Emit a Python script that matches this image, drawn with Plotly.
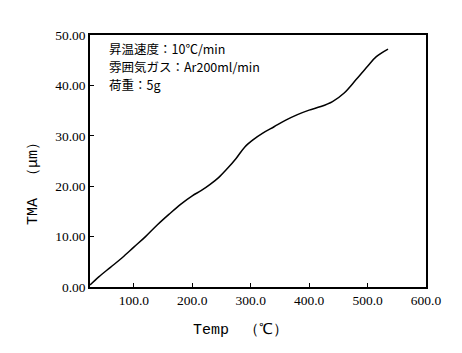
import plotly.graph_objects as go

temp = [25, 40, 60, 80, 100, 120, 140, 160, 180, 200, 215, 230, 245, 260, 275,
        290, 305, 320, 340, 360, 380, 400, 420, 440, 460, 480, 500, 515, 535]
tma = [0.4, 2.0, 3.9, 5.8, 7.9, 10.0, 12.3, 14.4, 16.4, 18.1, 19.1, 20.3, 21.7, 23.5, 25.5,
       27.8, 29.3, 30.5, 31.8, 33.1, 34.2, 35.1, 35.8, 36.8, 38.5, 41.1, 43.8, 45.7, 47.2]

x_ticks = [100, 200, 300, 400, 500, 600]
y_ticks = [0, 10, 20, 30, 40, 50]
notes = ["昇温速度：10℃/min", "雰囲気ガス：Ar200ml/min", "荷重：5g"]
x_title = "Temp　（℃）"
y_title = "TMA　（μm）"

fig = go.Figure()
fig.add_trace(go.Scatter(x=temp, y=tma, mode="lines", line=dict(color="black", width=1.5, shape="spline"),
                         showlegend=False, hoverinfo="skip"))

axis_common = dict(showline=True, linecolor="black", linewidth=1.5, mirror=True,
                   ticks="inside", ticklen=4, tickcolor="black", showgrid=False, zeroline=False,
                   tickfont=dict(family="Liberation Serif", size=13.5, color="black"))
fig.update_xaxes(range=[25, 600], tickvals=x_ticks, ticktext=[f"{v:.1f}" for v in x_ticks], **axis_common)
fig.update_yaxes(range=[0, 50], tickvals=y_ticks, ticktext=[f"{v:.2f}" for v in y_ticks], **axis_common)

for i, t in enumerate(notes):
    fig.add_annotation(text=t, xref="paper", yref="paper", x=0.05, y=1 - (13 + 18 * i) / 252,
                       xanchor="left", yanchor="middle", showarrow=False,
                       font=dict(family="Noto Sans CJK JP", size=12.5, color="black"))

fig.add_annotation(text=x_title, xref="paper", yref="paper", x=(240 - 90) / 336, y=-43 / 252,
                   xanchor="center", yanchor="middle", showarrow=False,
                   font=dict(family="Liberation Mono", size=15, color="black"))
fig.add_annotation(text=y_title, xref="paper", yref="paper", x=-57 / 336, y=(287 - 180) / 252,
                   xanchor="center", yanchor="middle", showarrow=False, textangle=-90,
                   font=dict(family="Liberation Mono", size=15, color="black"))

fig.update_layout(width=462, height=353, autosize=False,
                  margin=dict(l=90, r=36, t=35, b=66),
                  plot_bgcolor="white", paper_bgcolor="white")
fig.write_html("out.html")
